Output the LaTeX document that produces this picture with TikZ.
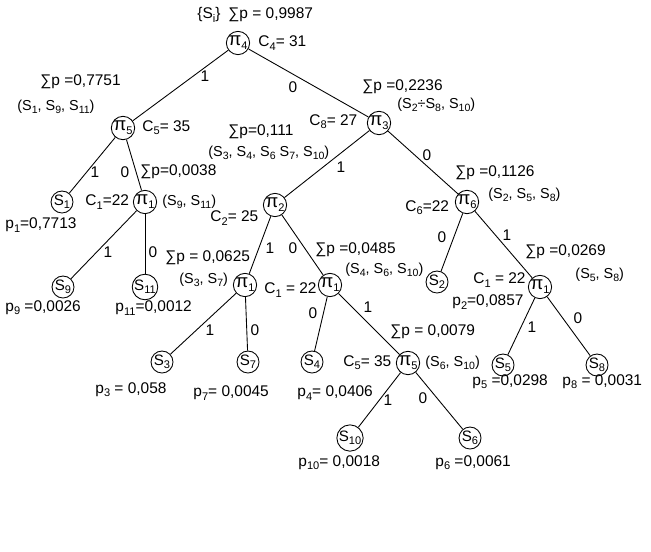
\documentclass[tikz,border=0pt]{standalone}
\usepackage{fontspec}
\setmainfont{Liberation Sans}
\usetikzlibrary{calc}

\newcommand\lo[1]{\raisebox{-0.4ex}{\fontsize{6.3}{7}\selectfont #1}}
\newcommand\los[1]{\raisebox{-0.3ex}{\fontsize{6}{7}\selectfont #1}}

\tikzset{
  vert/.style={draw,circle,inner sep=0pt,minimum size=0.44cm,font=\fontsize{8.6}{9}\selectfont},
  pivert/.style={vert,font=\fontsize{10.5}{11}\selectfont},
  txt/.style={anchor=west,inner sep=0pt,font=\fontsize{8.8}{10}\selectfont},
  settxt/.style={txt,font=\fontsize{8.2}{9}\selectfont},
  bit/.style={inner sep=0pt,font=\fontsize{8.8}{10}\selectfont}
}

\begin{document}
\begin{tikzpicture}[x=0.02cm,y=-0.02cm,line width=0.5pt]
\useasboundingbox (0,0) rectangle (651,551);

% vertices of the tree
\node[pivert] (P4) at (238,43) {π\lo{4}};
\node[pivert] (P5a) at (123,128) {π\lo{5}};
\node[pivert] (P3) at (379,123) {π\lo{3}};
\node[pivert] (P1a) at (145,202) {π\lo{1}};
\node[vert] (S1) at (62,202) {S\lo{1}};
\node[vert] (S9) at (63,287) {S\lo{9}};
\node[vert] (S11) at (145,287) {S\lo{11}};
\node[pivert] (P2) at (275,205) {π\lo{2}};
\node[pivert] (P6) at (467,202) {π\lo{6}};
\node[pivert] (P1b) at (245,285) {π\lo{1}};
\node[pivert] (P1c) at (330,285) {π\lo{1}};
\node[vert] (S2) at (437,282) {S\lo{2}};
\node[pivert] (P1d) at (540,287) {π\lo{1}};
\node[vert] (S3) at (162,362) {S\lo{3}};
\node[vert] (S7) at (248,362) {S\lo{7}};
\node[vert] (S4) at (312,362) {S\lo{4}};
\node[pivert] (P5b) at (408,363) {π\lo{5}};
\node[vert] (S5) at (503,365) {S\lo{5}};
\node[vert] (S8) at (597,365) {S\lo{8}};
\node[vert] (S10) at (350,438) {S\lo{10}};
\node[vert] (S6) at (470,438) {S\lo{6}};

\foreach \a/\b in {P4/P5a,P4/P3,P5a/S1,P5a/P1a,P1a/S9,P1a/S11,P3/P2,P3/P6,
  P2/P1b,P2/P1c,P1b/S3,P1b/S7,P1c/S4,P1c/P5b,P5b/S10,P5b/S6,P6/S2,P6/P1d,
  P1d/S5,P1d/S8}
  \draw (\a) -- (\b);

% bits on the branches
\node[bit] (b1) at (205,76) {1};
\node[bit] (b2) at (293,87) {0};
\node[bit] (b3) at (95,172) {1};
\node[bit] (b4) at (125,172) {0};
\node[bit] (b5) at (108,252) {1};
\node[bit] (b6) at (153,252) {0};
\node[bit] (b7) at (341,167) {1};
\node[bit] (b8) at (427,155) {0};
\node[bit] (b9) at (270,248) {1};
\node[bit] (b10) at (293,248) {0};
\node[bit] (b11) at (313,313) {0};
\node[bit] (b12) at (368,307) {1};
\node[bit] (b13) at (442,237) {0};
\node[bit] (b14) at (507,235) {1};
\node[bit] (b15) at (532,327) {1};
\node[bit] (b16) at (578,318) {0};
\node[bit] (b17) at (210,330) {1};
\node[bit] (b18) at (255,330) {0};
\node[bit] (b19) at (388,400) {1};
\node[bit] (b20) at (423,398) {0};

% sums, sets and costs
\node[txt] (tSi) at (197,15) {\{S\lo{i}\}};
\node[txt] (tsum4) at (228,15) {∑p = 0,9987};
\node[txt] (tC4) at (258,43) {C\lo{4}= 31};
\node[txt] (tsum5a) at (40,82) {∑p =0,7751};
\node[settxt] (tset5a) at (17,107) {(S\los{1}, S\los{9}, S\los{11})};
\node[txt] (tC5a) at (142,128) {C\lo{5}= 35};
\node[txt] (tsum1a) at (140,172) {∑p=0,0038};
\node[settxt] (tset1a) at (162,202) {(S\los{9}, S\los{11})};
\node[txt] (tC1a) at (85,202) {C\lo{1}=22};
\node[txt] (tsum3) at (362,87) {∑p =0,2236};
\node[settxt] (tset3) at (397,105) {(S\los{2}÷S\los{8}, S\los{10})};
\node[txt] (tC8) at (309,122) {C\lo{8}= 27};
\node[txt] (tsum2) at (228,132) {∑p=0,111};
\node[settxt] (tset2) at (208,153) {(S\los{3}, S\los{4}, S\los{6} S\los{7}, S\los{10})};
\node[txt] (tC2) at (210,218) {C\lo{2}= 25};
\node[txt] (tsum1b) at (165,258) {∑p = 0,0625};
\node[settxt] (tset1b) at (179,280) {(S\los{3}, S\los{7})};
\node[txt] (tsum1c) at (315,250) {∑p =0,0485};
\node[settxt] (tset1c) at (345,270) {(S\los{4}, S\los{6}, S\los{10})};
\node[txt] (tC1c) at (264,290) {C\lo{1} = 22};
\node[txt] (tsum6) at (455,173) {∑p =0,1126};
\node[settxt] (tset6) at (488,195) {(S\los{2}, S\los{5}, S\los{8})};
\node[txt] (tC6) at (405,208) {C\lo{6}=22};
\node[txt] (tsum1d) at (525,252) {∑p =0,0269};
\node[settxt] (tset1d) at (575,275) {(S\los{5}, S\los{8})};
\node[txt] (tC1d) at (473,280) {C\lo{1} = 22};
\node[txt] (tsum5b) at (390,332) {∑p = 0,0079};
\node[txt] (tC5b) at (343,363) {C\lo{5}= 35};
\node[settxt] (tset5b) at (425,363) {(S\los{6}, S\los{10})};

% probabilities of the leaves
\node[txt] (tp1) at (5,225) {p\lo{1}=0,7713};
\node[txt] (tp9) at (5,308) {p\lo{9} =0,0026};
\node[txt] (tp11) at (115,308) {p\lo{11}=0,0012};
\node[txt] (tp2) at (452,302) {p\lo{2}=0,0857};
\node[txt] (tp5) at (472,382) {p\lo{5} =0,0298};
\node[txt] (tp8) at (562,382) {p\lo{8} = 0,0031};
\node[txt] (tp3) at (95,390) {p\lo{3} = 0,058};
\node[txt] (tp7) at (193,393) {p\lo{7}= 0,0045};
\node[txt] (tp4) at (297,393) {p\lo{4}= 0,0406};
\node[txt] (tp10) at (298,463) {p\lo{10}= 0,0018};
\node[txt] (tp6) at (435,463) {p\lo{6} =0,0061};

\end{tikzpicture}
\end{document}
